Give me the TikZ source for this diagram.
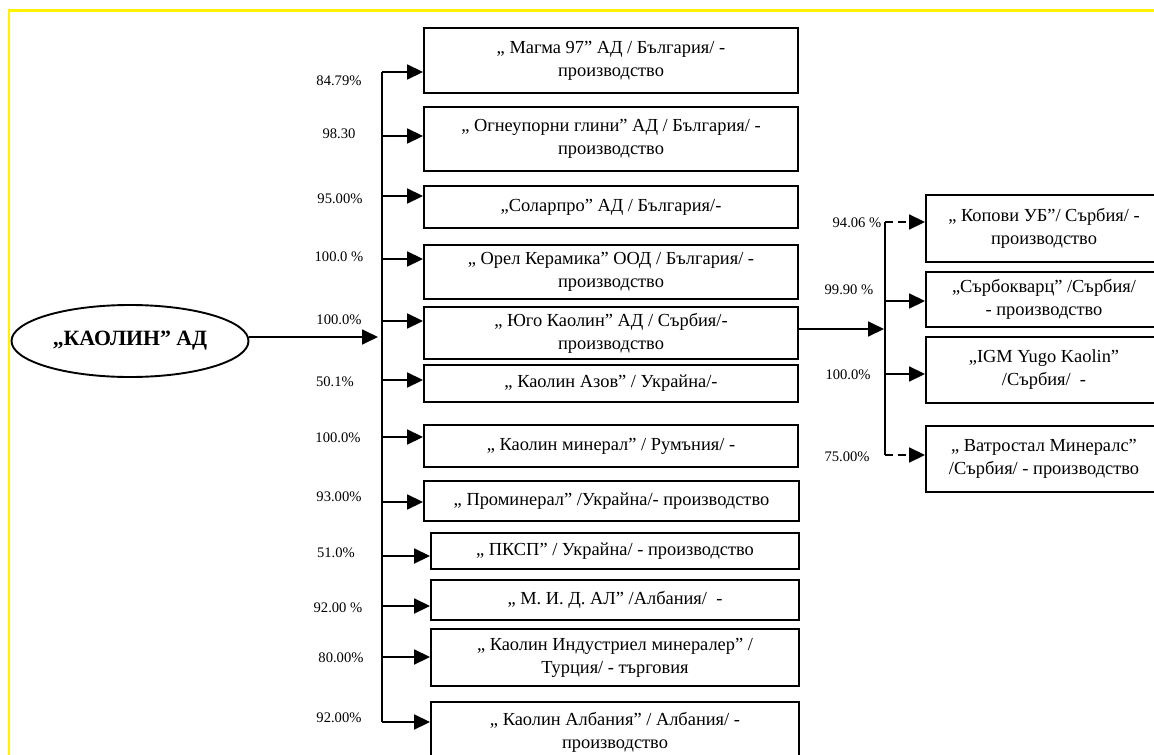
\documentclass[tikz,border=0pt]{standalone}
\usepackage{fontspec}
\setmainfont{Liberation Serif}
\usetikzlibrary{arrows.meta,shapes.geometric}
\begin{document}
\begin{tikzpicture}[x=1pt,y=-1pt,
	firm/.style={draw,line width=1.9pt,align=center,inner sep=0pt,font=\fontsize{18.4}{23}\selectfont},
	pct/.style={inner sep=0pt,font=\fontsize{14.6}{16}\selectfont},
	arr/.style={line width=1.8pt,-{Triangle[length=16pt,width=15pt]}},
	bus/.style={line width=1.8pt}]
	
	\useasboundingbox (0,0) rectangle (1154,755);
	\clip (0,0) rectangle (1154,755);
	\draw[yellow,line width=2.2pt] (9,770) -- (9,10.5) -- (1170,10.5);
	
	\node[draw,ellipse,line width=1.9pt,minimum width=237pt,minimum height=72pt,font=\bfseries\fontsize{21.8}{24}\selectfont] (kaolin) at (130,341) {„КАОЛИН” АД};
	
	\node[firm,minimum width=374pt,minimum height=65pt] (m1) at (611,60.5) {„ Магма 97” АД / България/ -\\производство};
	\node[firm,minimum width=374pt,minimum height=64pt] (m2) at (611,139) {„ Огнеупорни глини” АД / България/ -\\производство};
	\node[firm,minimum width=374pt,minimum height=42pt] (m3) at (611,207) {„Соларпро” АД / България/-};
	\node[firm,minimum width=374pt,minimum height=54pt] (m4) at (611,272) {„ Орел Керамика” ООД / България/ -\\производство};
	\node[firm,minimum width=374pt,minimum height=52pt] (m5) at (611,333) {„ Юго Каолин” АД / Сърбия/-\\производство};
	\node[firm,minimum width=374pt,minimum height=37pt] (m6) at (611,383.5) {„ Каолин Азов” / Украйна/-};
	\node[firm,minimum width=374pt,minimum height=42pt] (m7) at (611,446) {„ Каолин минерал” / Румъния/ -};
	\node[firm,minimum width=375pt,minimum height=40pt] (m8) at (611.5,501) {„ Проминерал” /Украйна/- производство};
	\node[firm,minimum width=368pt,minimum height=36pt] (m9) at (615,551) {„ ПКСП” / Украйна/ - производство};
	\node[firm,minimum width=368pt,minimum height=40pt] (m10) at (615,600) {„ М. И. Д. АЛ” /Албания/ \ -};
	\node[firm,minimum width=368pt,minimum height=57pt] (m11) at (615,657.5) {„ Каолин Индустриел минералер” /\\Турция/ - търговия};
	\node[firm,minimum width=368pt,minimum height=60pt] (m12) at (615,732) {„ Каолин Албания” / Албания/ -\\производство};
	
	\node[firm,minimum width=236pt,minimum height=67pt] (r1) at (1044,228.5) {„ Копови УБ”/ Сърбия/ -\\производство};
	\node[firm,minimum width=236pt,minimum height=55pt] (r2) at (1044,299.5) {„Сърбокварц” /Сърбия/\\- производство};
	\node[firm,minimum width=236pt,minimum height=66pt] (r3) at (1044,370) {„IGM Yugo Kaolin”\\/Сърбия/ \ -};
	\node[firm,minimum width=236pt,minimum height=66pt] (r4) at (1044,459) {„ Ватростал Минералс”\\/Сърбия/ - производство};
	
	\node[pct] (l1) at (339,81) {84.79\%};
	\node[pct] (l2) at (339,134) {98.30};
	\node[pct] (l3) at (340,199) {95.00\%};
	\node[pct] (l4) at (339,257) {100.0 \%};
	\node[pct] (l5) at (339,320) {100.0\%};
	\node[pct] (l6) at (335,382) {50.1\%};
	\node[pct] (l7) at (338,438) {100.0\%};
	\node[pct] (l8) at (339,497) {93.00\%};
	\node[pct] (l9) at (336,553) {51.0\%};
	\node[pct] (l10) at (338,608) {92.00 \%};
	\node[pct] (l11) at (341,658) {80.00\%};
	\node[pct] (l12) at (339,718) {92.00\%};
	\node[pct] (k1) at (857,223) {94.06 \%};
	\node[pct] (k2) at (849,290) {99.90 \%};
	\node[pct] (k3) at (848,375) {100.0\%};
	\node[pct] (k4) at (847,457) {75.00\%};
	
	\coordinate (a1) at (382,72);
	\coordinate (a2) at (382,136);
	\coordinate (a3) at (382,196);
	\coordinate (a4) at (382,259);
	\coordinate (a5) at (382,321);
	\coordinate (a6) at (382,380);
	\coordinate (a7) at (382,437);
	\coordinate (a8) at (382,502);
	\coordinate (a9) at (382,556);
	\coordinate (a10) at (382,606);
	\coordinate (a11) at (382,657);
	\coordinate (a12) at (382,722);
	\coordinate (hub) at (378,337);
	\coordinate (s1) at (885,222);
	\coordinate (s2) at (885,301);
	\coordinate (s3) at (885,374);
	\coordinate (s4) at (885,455);
	\coordinate (hub2) at (884,329);
	
	\draw[bus] (a1) -- (a12);
	\draw[bus] (s1) -- (s4);
	
	\path (kaolin.east |- hub) edge[arr] (hub);
	\path (m5.east |- hub2) edge[arr] (hub2);
	
	\path (a1) edge[arr] (m1.west |- a1);
	\path (a2) edge[arr] (m2.west |- a2);
	\path (a3) edge[arr] (m3.west |- a3);
	\path (a4) edge[arr] (m4.west |- a4);
	\path (a5) edge[arr] (m5.west |- a5);
	\path (a6) edge[arr] (m6.west |- a6);
	\path (a7) edge[arr] (m7.west |- a7);
	\path (a8) edge[arr] (m8.west |- a8);
	\path (a9) edge[arr] (m9.west |- a9);
	\path (a10) edge[arr] (m10.west |- a10);
	\path (a11) edge[arr] (m11.west |- a11);
	\path (a12) edge[arr] (m12.west |- a12);
	
	\path (s1) edge[arr,dash pattern=on 8pt off 5pt] (r1.west |- s1);
	\path (s2) edge[arr] (r2.west |- s2);
	\path (s3) edge[arr] (r3.west |- s3);
	\path (s4) edge[arr,dash pattern=on 8pt off 5pt] (r4.west |- s4);
	
\end{tikzpicture}
\end{document}
